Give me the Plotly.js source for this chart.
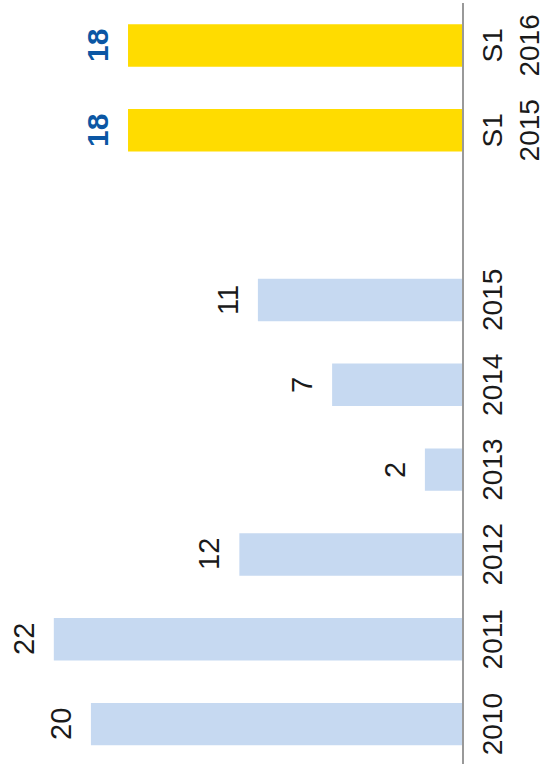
<!DOCTYPE html>
<html>
<head>
<meta charset="utf-8">
<script src="https://cdn.plot.ly/plotly-3.0.1.min.js"></script>
<style>
html,body{margin:0;padding:0;background:#fff;overflow:hidden;width:545px;height:764px;}
#chart{position:absolute;left:0;top:0;width:764px;height:545px;transform-origin:0 0;}
</style>
</head>
<body>
<div id="chart"></div>
<script>
// Data
var categories = ['2010','2011','2012','2013','2014','2015',' ','S1<br>2015','S1<br>2016'];
var values = [20, 22, 12, 2, 7, 11, null, 18, 18];
var labels = ['20','22','12','2','7','11','','18','18'];
var highlight = [false,false,false,false,false,false,false,true,true];

var blue = '#c6d9f1', yellow = '#ffdc00';
var colors = highlight.map(function(h){ return h ? yellow : blue; });

var annotations = [];
for (var i = 0; i < categories.length; i++) {
  if (values[i] === null) continue;
  annotations.push({
    x: i, y: values[i], xref: 'x', yref: 'y',   // category index on the category axis
    text: labels[i], showarrow: false, yanchor: 'bottom', xanchor: 'center',
    yshift: 13, borderpad: 0,
    font: highlight[i]
      ? {family: 'Arial', size: 30, color: '#0b57a4', weight: 'bold'}
      : {family: 'Arial', size: 29, color: '#1a1a1a'}
  });
}

var trace = {
  type: 'bar', x: categories, y: values,
  marker: {color: colors, line: {width: 0}},
  width: 0.5, hoverinfo: 'none'
};

var layout = {
  width: 764, height: 545,
  margin: {l: 0, r: 3, t: 0, b: 83, pad: 0},
  paper_bgcolor: '#fff', plot_bgcolor: '#fff',
  showlegend: false,
  bargap: 0.5,
  xaxis: {
    type: 'category', range: [-0.47, 8.5],
    showline: true, linecolor: '#999', linewidth: 1.5,
    showgrid: false, zeroline: false, ticks: '',
    ticklabelstandoff: 5,
    tickfont: {family: 'Arial', size: 28, color: '#1a1a1a'},
    fixedrange: true
  },
  yaxis: {
    range: [0, 24.9], visible: false, showgrid: false, zeroline: false, fixedrange: true
  },
  annotations: annotations
};

Plotly.newPlot('chart', [trace], layout, {staticPlot: true, displayModeBar: false}).then(function(){
  document.getElementById('chart').style.transform = 'translate(0,764px) rotate(-90deg)';
});
</script>
</body>
</html>
